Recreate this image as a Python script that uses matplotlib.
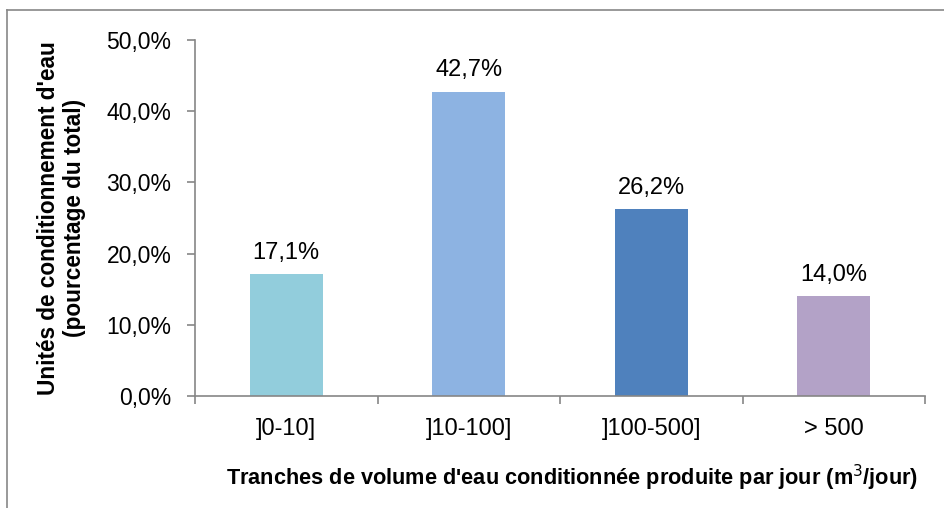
import matplotlib.pyplot as plt
import numpy as np
from matplotlib.lines import Line2D

plt.rcParams['font.family'] = ['Liberation Sans', 'DejaVu Sans']

categories = [']0-10]', ']10-100]', ']100-500]', '> 500']
values = [17.1, 42.7, 26.2, 14.0]
colors = ['#92CDDC', '#8DB3E2', '#4F81BD', '#B3A2C7']
yticks = [0, 10, 20, 30, 40, 50]

fig = plt.figure(figsize=(9.44, 5.08), dpi=100)
ax = fig.add_axes([0.2066, 0.2205, 0.7734, 0.7008])

x = np.arange(len(categories))
ax.bar(x, values, width=0.4, color=colors)

for xi, v in zip(x, values):
    ax.text(xi, v + 1.5, f'{v:.1f}%'.replace('.', ','), ha='center', va='bottom', fontsize=17)

ax.set_xlim(-0.5, len(categories) - 0.5)
ax.set_ylim(0, 50)
ax.set_yticks(yticks)
ax.set_yticklabels([f'{t:.1f}%'.replace('.', ',') for t in yticks], fontsize=16.5)
ax.set_xticks(x)
ax.set_xticklabels(categories, fontsize=17)
ax.set_xticks(np.arange(-0.5, len(categories)), minor=True)

gray = '#868686'
for s in ['top', 'right']:
    ax.spines[s].set_visible(False)
for s in ['left', 'bottom']:
    ax.spines[s].set_color(gray)
    ax.spines[s].set_linewidth(1.2)
ax.tick_params(axis='y', direction='out', length=6, color=gray, width=1.2, pad=11)
ax.tick_params(axis='x', which='major', length=0, pad=16)
ax.tick_params(axis='x', which='minor', direction='out', length=6, color=gray, width=1.2)

ax.set_ylabel("Unités de conditionnement d'eau\n(pourcentage du total)",
              fontsize=16.3, fontweight='bold', linespacing=1.15)
ax.yaxis.set_label_coords(-0.15, 0.5)
ax.set_xlabel("Tranches de volume d'eau conditionnée produite par jour (m$^3$/jour)",
              fontsize=15.7, fontweight='bold')
ax.xaxis.set_label_coords(0.516, -0.187)

# outer chart border (cropped at right and bottom)
fig.add_artist(Line2D([7/944, 7/944], [0, 1 - 10/508], color='#888888', lw=1.2,
                      transform=fig.transFigure))
fig.add_artist(Line2D([7/944, 1], [1 - 10/508, 1 - 10/508], color='#888888', lw=1.2,
                      transform=fig.transFigure))

fig.savefig('out.png', dpi=100)
